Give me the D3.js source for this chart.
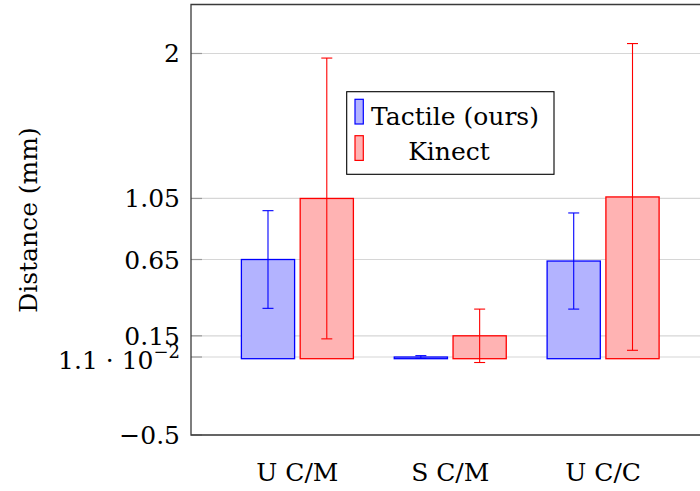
<!DOCTYPE html>
<html>
<head>
<meta charset="utf-8">
<script src="https://cdn.jsdelivr.net/npm/d3@7"></script>
<style>
  body { margin: 0; background: #fff; }
</style>
</head>
<body>
<div id="container"></div>
<script>
// data
const categories = ["U C/M", "S C/M", "U C/C"]
const series = ["Tactile (ours)", "Kinect"]
const tactile = [0.65, 0.011, 0.64]
const tactileErr = [0.32, 0.009, 0.315]
const kinect = [1.05, 0.15, 1.06]
const kinectErr = [0.92, 0.175, 1.005]
const yTicks = [-0.5, 0.011, 0.15, 0.65, 1.05, 2]

let width = 700
let height = 491
let fontSize = 25

let fills = ["#b3b3ff", "#ffb3b3"]
let strokes = ["#0000ff", "#ff0000"]

let svg = d3.select("#container")
    .append("svg")
    .attr("width", width)
    .attr("height", height)
    .attr("font-family", "'DejaVu Serif'")

let y = d3.scaleLinear()
    .domain([-0.5, 2.321])
    .range([435, 4.5])

// axis runs past the right edge of the window
let x = d3.scalePoint()
    .domain(categories)
    .range([191, 709.5])
    .padding(0.696)

let x1 = d3.scaleBand()
    .domain(series)
    .range([-56, 56])
    .paddingInner(0.095)

// grid
svg.append("g")
    .selectAll("line")
    .data(yTicks)
    .join("line")
        .attr("x1", 191)
        .attr("x2", width)
        .attr("y1", d => y(d))
        .attr("y2", d => y(d))
        .attr("stroke", "#d6d6d6")
        .attr("stroke-width", 1.2)

svg.append("g")
    .selectAll("line")
    .data(yTicks)
    .join("line")
        .attr("x1", 191)
        .attr("x2", 202)
        .attr("y1", d => y(d))
        .attr("y2", d => y(d))
        .attr("stroke", "#9a9a9a")
        .attr("stroke-width", 1.2)

let rows = []
categories.forEach((c, i) => {
    rows.push({cat: c, s: 0, value: tactile[i], err: tactileErr[i]})
    rows.push({cat: c, s: 1, value: kinect[i], err: kinectErr[i]})
})

let cx = d => x(d.cat) + x1(series[d.s]) + x1.bandwidth() / 2

svg.append("g")
    .selectAll("rect")
    .data(rows)
    .join("rect")
        .attr("x", d => x(d.cat) + x1(series[d.s]))
        .attr("y", d => y(d.value))
        .attr("width", x1.bandwidth())
        .attr("height", d => y(0) - y(d.value))
        .attr("fill", d => fills[d.s])
        .attr("stroke", d => strokes[d.s])
        .attr("stroke-width", 1.3)

// error bars
let eb = svg.append("g")
    .selectAll("g")
    .data(rows)
    .join("g")
        .attr("stroke", d => strokes[d.s])
        .attr("stroke-width", 1.1)

eb.append("line")
    .attr("x1", cx).attr("x2", cx)
    .attr("y1", d => y(d.value + d.err))
    .attr("y2", d => y(d.value - d.err))
eb.append("line")
    .attr("x1", d => cx(d) - 5.5).attr("x2", d => cx(d) + 5.5)
    .attr("y1", d => y(d.value + d.err))
    .attr("y2", d => y(d.value + d.err))
eb.append("line")
    .attr("x1", d => cx(d) - 5.5).attr("x2", d => cx(d) + 5.5)
    .attr("y1", d => y(d.value - d.err))
    .attr("y2", d => y(d.value - d.err))

// axis frame
svg.append("path")
    .attr("d", `M${width + 1},${y.range()[1]}H191V435H${width + 1}`)
    .attr("fill", "none")
    .attr("stroke", "#3a3a3a")
    .attr("stroke-width", 1.3)

// y tick labels
let yl = svg.append("g")
    .attr("font-size", fontSize)
    .attr("text-anchor", "end")

yTicks.forEach(t => {
    if (t == 0.011) {
        let tx = yl.append("text")
            .attr("x", 180)
            .attr("y", y(t) + 12)
        tx.append("tspan").text("1.1 · 10")
        tx.append("tspan")
            .attr("font-size", 18)
            .attr("dy", -11)
            .text("−2")
    } else {
        yl.append("text")
            .attr("x", 180)
            .attr("y", y(t) + 9)
            .text(t < 0 ? "−" + Math.abs(t) : t)
    }
})

// x tick labels
svg.append("g")
    .attr("font-size", fontSize)
    .attr("text-anchor", "middle")
    .selectAll("text")
    .data(categories)
    .join("text")
        .attr("x", d => x(d))
        .attr("y", 481)
        .text(d => d)

svg.append("text")
    .attr("transform", "translate(37,220) rotate(-90)")
    .attr("text-anchor", "middle")
    .attr("font-size", fontSize)
    .text("Distance (mm)")

// legend
let legend = svg.append("g")
legend.append("rect")
    .attr("x", 346.7)
    .attr("y", 91.7)
    .attr("width", 207.3)
    .attr("height", 82.6)
    .attr("fill", "white")
    .attr("stroke", "black")
    .attr("stroke-width", 1.1)

let legendTextX = [455, 449]
series.forEach((s, i) => {
    legend.append("rect")
        .attr("x", 355)
        .attr("y", 99.3 + i * 36.4)
        .attr("width", 8.3)
        .attr("height", 24.7)
        .attr("fill", fills[i])
        .attr("stroke", strokes[i])
        .attr("stroke-width", 1.2)
    legend.append("text")
        .attr("x", legendTextX[i])
        .attr("y", 125 + i * 35)
        .attr("text-anchor", "middle")
        .attr("font-size", fontSize)
        .text(s)
})
</script>
</body>
</html>
